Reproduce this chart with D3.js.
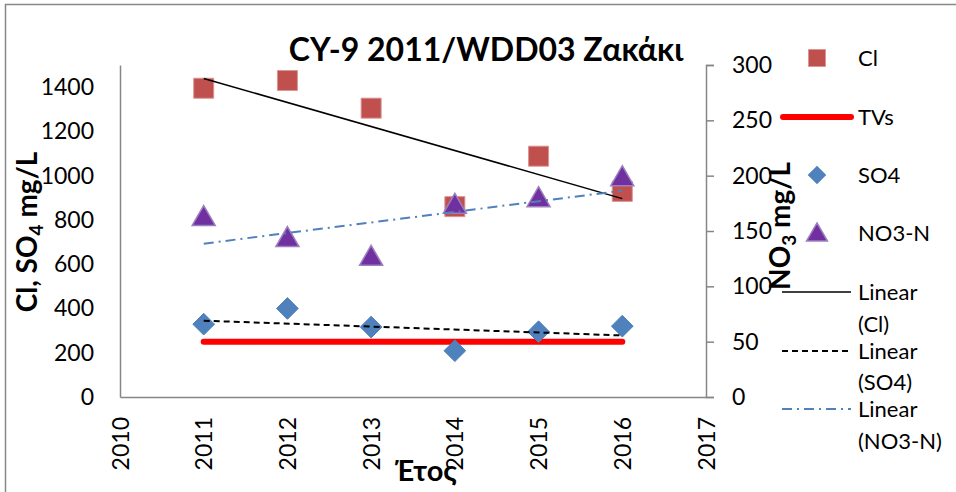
<!DOCTYPE html>
<html>
<head>
<meta charset="utf-8">
<script src="https://cdn.jsdelivr.net/npm/d3@7"></script>
<style>
  body { margin: 0; background: #fff; }
  text { font-family: Lato, "Open Sans", sans-serif; fill: #000; }
</style>
</head>
<body>
<script>
var years = [2011, 2012, 2013, 2014, 2015, 2016];
var clValues = [1395, 1430, 1305, 860, 1088, 929];
var so4Values = [329, 400, 316, 209, 295, 320];
var no3nValues = [161, 142, 125, 172, 178, 197];
var tvsValue = 250;
var xTicks = [2010, 2011, 2012, 2013, 2014, 2015, 2016, 2017];
var leftTicks = [0, 200, 400, 600, 800, 1000, 1200, 1400];
var rightTicks = [0, 50, 100, 150, 200, 250, 300];

var width = 956, height = 492;
var plot = { left: 120, right: 706, top: 65, bottom: 397 };

var svg = d3.select("body").append("svg").attr("width", width).attr("height", height);

// chart border
svg.append("rect").attr("x", 5.5).attr("y", 4.5).attr("width", 1000).attr("height", 600)
    .attr("fill", "none").attr("stroke", "#888").attr("stroke-width", 1.5);

var x = d3.scaleLinear().domain([2010, 2017]).range([plot.left, plot.right]);
var yL = d3.scaleLinear().domain([0, 1500]).range([plot.bottom, plot.top]);
var yR = d3.scaleLinear().domain([0, 300]).range([plot.bottom, plot.top]);

// axes
var axisColor = "#868686";
var tickFont = 23;
var gx = svg.append("g").attr("transform", "translate(0," + plot.bottom + ")")
    .call(d3.axisBottom(x).tickValues(xTicks).tickFormat(d3.format("d")).tickSize(0));
gx.select(".domain").attr("stroke", axisColor).attr("stroke-width", 1.5);
gx.selectAll(".tick text")
    .attr("font-size", tickFont).attr("font-family", "Lato")
    .attr("transform", "rotate(-90)")
    .attr("text-anchor", "end").attr("x", -20).attr("y", 0).attr("dy", "0.35em");

var gl = svg.append("g").attr("transform", "translate(" + plot.left + ",0)")
    .call(d3.axisLeft(yL).tickValues(leftTicks).tickFormat(d3.format("d")).tickSize(0).tickPadding(26));
gl.select(".domain").attr("stroke", axisColor).attr("stroke-width", 1.5);
gl.selectAll(".tick text").attr("font-size", tickFont).attr("font-family", "Lato");

var gr = svg.append("g").attr("transform", "translate(" + plot.right + ",0)")
    .call(d3.axisRight(yR).tickValues(rightTicks).tickSize(8).tickPadding(18));
gr.select(".domain").attr("stroke", axisColor).attr("stroke-width", 1.5);
gr.selectAll(".tick line").attr("stroke", axisColor).attr("stroke-width", 1.5);
gr.selectAll(".tick text").attr("font-size", tickFont).attr("font-family", "Lato");

// trend lines (least squares)
function trend(xs, ys) {
  var mx = d3.mean(xs), my = d3.mean(ys);
  var sxy = d3.sum(xs, function(v, i) { return (v - mx) * (ys[i] - my); });
  var sxx = d3.sum(xs, function(v) { return (v - mx) * (v - mx); });
  var b = sxy / sxx, a = my - b * mx;
  return [xs[0], xs[xs.length - 1]].map(function(v) { return [v, a + b * v]; });
}

var lineL = d3.line().x(function(d) { return x(d[0]); }).y(function(d) { return yL(d[1]); });
var lineR = d3.line().x(function(d) { return x(d[0]); }).y(function(d) { return yR(d[1]); });

// TVs
svg.append("path")
    .attr("d", lineL(years.map(function(yr) { return [yr, tvsValue]; })))
    .attr("stroke", "#ff0000").attr("stroke-width", 6).attr("stroke-linecap", "round").attr("fill", "none");

var sq = d3.symbol().type(d3.symbolSquare).size(400);
var dia = d3.symbol().type(d3.symbolDiamond2).size(300);
var tri = d3.symbol().type(d3.symbolTriangle).size(230);

// Cl squares
svg.selectAll(".cl").data(years).enter().append("path")
    .attr("transform", function(d, i) { return "translate(" + x(d) + "," + yL(clValues[i]) + ")"; })
    .attr("d", sq).attr("fill", "#c0504d").attr("stroke", "#d99694").attr("stroke-width", 1);

// SO4 diamonds
svg.selectAll(".so4").data(years).enter().append("path")
    .attr("transform", function(d, i) { return "translate(" + x(d) + "," + yL(so4Values[i]) + ")"; })
    .attr("d", dia).attr("fill", "#4f81bd").attr("stroke", "#4f81bd").attr("stroke-width", 1);

// NO3-N triangles
svg.selectAll(".no3").data(years).enter().append("path")
    .attr("transform", function(d, i) { return "translate(" + x(d) + "," + yR(no3nValues[i]) + ")"; })
    .attr("d", tri).attr("fill", "#7030a0").attr("stroke", "#9d7fc0").attr("stroke-width", 1.5);

svg.append("path").attr("d", lineL(trend(years, clValues)))
    .attr("stroke", "#000").attr("stroke-width", 1.5).attr("fill", "none");
svg.append("path").attr("d", lineL(trend(years, so4Values)))
    .attr("stroke", "#000").attr("stroke-width", 2).attr("stroke-dasharray", "6,4").attr("fill", "none");
svg.append("path").attr("d", lineR(trend(years, no3nValues)))
    .attr("stroke", "#4f81bd").attr("stroke-width", 2).attr("stroke-dasharray", "10,5,2,5").attr("fill", "none");

// titles
svg.append("text").attr("x", 486).attr("y", 61).attr("text-anchor", "middle")
    .attr("font-size", 32).attr("font-weight", "bold").text("CY-9 2011/WDD03 Ζακάκι");

var lt = svg.append("text").attr("transform", "translate(37,232) rotate(-90)")
    .attr("text-anchor", "middle").attr("font-size", 28).attr("font-weight", "bold");
lt.append("tspan").text("Cl, SO");
lt.append("tspan").attr("font-size", 19).attr("dy", 6).text("4");
lt.append("tspan").attr("dy", -6).text(" mg/L");

var rt = svg.append("text").attr("transform", "translate(790,226) rotate(-90)")
    .attr("text-anchor", "middle").attr("font-size", 28).attr("font-weight", "bold");
rt.append("tspan").text("NO");
rt.append("tspan").attr("font-size", 19).attr("dy", 6).text("3");
rt.append("tspan").attr("dy", -6).text(" mg/L");

svg.append("text").attr("x", 426).attr("y", 481).attr("text-anchor", "middle")
    .attr("font-size", 29).attr("font-weight", "bold").text("Έτος");

// legend
var legend = svg.append("g");
var lx = 817, ltx = 858;
legend.append("path").attr("transform", "translate(" + lx + ",58)")
    .attr("d", d3.symbol().type(d3.symbolSquare).size(290)).attr("fill", "#c0504d").attr("stroke", "#d99694");
legend.append("line").attr("x1", 783).attr("x2", 851).attr("y1", 117).attr("y2", 117)
    .attr("stroke", "#ff0000").attr("stroke-width", 6).attr("stroke-linecap", "round");
legend.append("path").attr("transform", "translate(" + lx + ",175)")
    .attr("d", d3.symbol().type(d3.symbolDiamond2).size(220)).attr("fill", "#4f81bd");
legend.append("path").attr("transform", "translate(" + lx + ",235)")
    .attr("d", d3.symbol().type(d3.symbolTriangle).size(190)).attr("fill", "#7030a0").attr("stroke", "#9d7fc0").attr("stroke-width", 1.5);
legend.append("line").attr("x1", 782).attr("x2", 851).attr("y1", 292).attr("y2", 292)
    .attr("stroke", "#000").attr("stroke-width", 1.5);
legend.append("line").attr("x1", 782).attr("x2", 851).attr("y1", 351).attr("y2", 351)
    .attr("stroke", "#000").attr("stroke-width", 2).attr("stroke-dasharray", "6,4");
legend.append("line").attr("x1", 782).attr("x2", 851).attr("y1", 409).attr("y2", 409)
    .attr("stroke", "#4f81bd").attr("stroke-width", 2).attr("stroke-dasharray", "10,5,2,5");

var legendLabels = [["Cl", 58], ["TVs", 117], ["SO4", 175], ["NO3-N", 233],
  ["Linear", 292], ["(Cl)", 324], ["Linear", 351], ["(SO4)", 382], ["Linear", 409], ["(NO3-N)", 441]];
legend.selectAll(".lab").data(legendLabels).enter().append("text")
    .attr("x", ltx).attr("y", function(d) { return d[1]; }).attr("dy", "0.35em")
    .attr("font-size", 22).text(function(d) { return d[0]; });
</script>
</body>
</html>
